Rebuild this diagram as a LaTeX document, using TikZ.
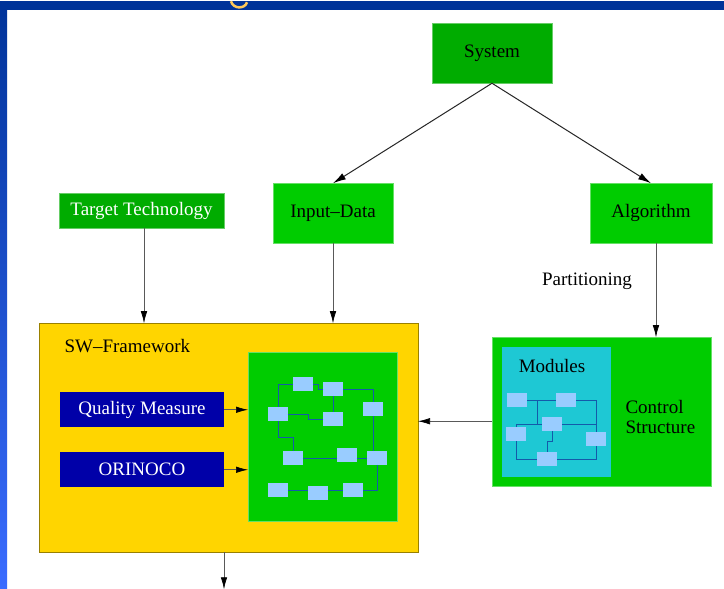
\documentclass[tikz,border=0pt]{standalone}
\usepackage{fontspec}
\setmainfont{Liberation Serif}
\usetikzlibrary{arrows.meta}
\pgfdeclarelayer{bg}
\pgfdeclarelayer{back}
\pgfdeclarelayer{mid}
\pgfsetlayers{bg,back,mid,main}
\definecolor{dkgreen}{RGB}{0,172,0}
\definecolor{brgreen}{RGB}{0,204,0}
\definecolor{gold}{RGB}{255,213,0}
\definecolor{navy}{RGB}{0,0,168}
\definecolor{cyanbox}{RGB}{30,200,212}
\definecolor{minib}{RGB}{153,204,255}
\definecolor{wirec}{RGB}{20,90,170}
\definecolor{bandblue}{RGB}{0,51,153}
\definecolor{lowblue}{RGB}{58,108,255}
\definecolor{titley}{RGB}{255,200,90}
\begin{document}
\begin{tikzpicture}[x=1pt,y=-1pt,font=\rmfamily\fontsize{19}{20}\selectfont,
  gbox/.style={fill=brgreen,draw=brgreen!60!white,line width=0.8pt,inner sep=0pt,outer sep=0pt},
  dgbox/.style={fill=dkgreen,draw=dkgreen!60!white,line width=0.8pt,inner sep=0pt,outer sep=0pt},
  nbox/.style={fill=navy,text=white,inner sep=0pt,outer sep=0pt,minimum width=164pt,minimum height=35pt},
  mini/.style={fill=minib,minimum width=20pt,minimum height=14pt,inner sep=0pt,outer sep=0pt},
  wire/.style={draw=wirec,line width=1pt},
  arr/.style={draw=black!65,line width=0.7pt,-{Latex[length=12pt,width=6.5pt,color=black]}},
  sysarr/.style={draw=black!85,line width=1pt,-{Latex[length=13pt,width=7pt,color=black]}}]
% background
\begin{pgfonlayer}{bg}
\fill[white] (0,0) rectangle (724,587);
\shade[top color=bandblue,bottom color=lowblue] (0,0) rectangle (7,587);
\fill[bandblue] (0,0) rectangle (724,9);
\draw[titley,line width=2.5pt] (231,0) .. controls (233,8) and (245,8) .. (247,1);
\end{pgfonlayer}
\useasboundingbox (0,0) rectangle (724,587);

% top nodes
\node[dgbox,minimum width=120pt,minimum height=60pt] (sys) at (492,52) {System};
\node[dgbox,text=white,minimum width=165pt,minimum height=35pt] (tt) at (141.5,209.5) {Target Technology};
\node[gbox,minimum width=120pt,minimum height=60pt] (inp) at (333,212) {Input--Data};
\node[gbox,minimum width=122pt,minimum height=60pt] (alg) at (651,212) {Algorithm};
\node (part) at (587,280) {Partitioning};

% big containers
\begin{pgfonlayer}{back}
\node[fill=gold,draw=black!40!gold,line width=0.8pt,inner sep=0pt,outer sep=0pt,minimum width=379pt,minimum height=229pt] (sw) at (228.5,436.5) {};
\node[gbox,minimum width=149pt,minimum height=169pt] (ig) at (322.5,435.5) {};
\node[gbox,minimum width=219pt,minimum height=149pt] (cs) at (601.5,410.5) {};
\node[fill=cyanbox,inner sep=0pt,outer sep=0pt,minimum width=109pt,minimum height=130pt] (cy) at (556.5,411) {};
\end{pgfonlayer}

\node[anchor=west] (swt) at (61,345) {SW--Framework};
\node (modt) at (552,365) {Modules};
\node[anchor=west,align=left] (cst) at (622,416) {Control\\Structure};
\node[nbox] (qm) at (142,408.5) {Quality Measure};
\node[nbox] (ori) at (142,468.5) {ORINOCO};

% mini modules in SW framework
\node[mini] (m1) at (303,383) {};
\node[mini] (m2) at (333,388) {};
\node[mini] (m3) at (278,413) {};
\node[mini] (m4) at (333,418) {};
\node[mini] (m5) at (373,408) {};
\node[mini] (m6) at (293,457) {};
\node[mini] (m7) at (347,454) {};
\node[mini] (m8) at (377,457) {};
\node[mini] (m9) at (278,489) {};
\node[mini] (m10) at (318,492) {};
\node[mini] (m11) at (353,489) {};

% mini modules in control structure
\node[mini] (cA) at (517,399) {};
\node[mini] (cB) at (566,399) {};
\node[mini] (cC) at (552,423) {};
\node[mini] (cD) at (516,433) {};
\node[mini] (cE) at (596,438) {};
\node[mini] (cF) at (547,458) {};

\begin{pgfonlayer}{mid}
\draw[wire] (m3.north) |- (m1.west);
\draw[wire] (m1.east) -- ++(5,0) |- (m2.west);
\draw[wire] (m2.east) -| (m5.north);
\draw[wire] (m2.south) -- (m4.north);
\draw[wire] (m3.east) -- ++(20,0) |- (m4.west);
\draw[wire] (m3.south) -- ++(0,16) -| (m6.north);
\draw[wire] (m6.east) -- (m6.east -| m8.west);
\draw[wire] (m5.south) -- (m5.south |- m8.north);
\draw[wire] (m8.south) |- (m9.east);
\draw[wire] (cA.east) -- (cB.west);
\draw[wire] (cB.east) -| (cE.north);
\draw[wire] (cA.east) -- ++(10,0) |- (cC.west);
\draw[wire] (cD.north) |- (cC.west);
\draw[wire] (cC.east) -| (cE.north);
\draw[wire] (cD.south) |- (cF.west);
\draw[wire] (cF.east) -| (cE.south);
\draw[wire] (cC.south) -- ++(0,10) -| (cF.north);
\end{pgfonlayer}

% connectors
\draw[sysarr] (sys.south) -- (inp.north);
\draw[sysarr] (sys.south) -- (alg.north);
\draw[arr] ([xshift=2.5pt]tt.south) -- ([xshift=2.5pt]tt.south |- sw.north);
\draw[arr] (inp.south) -- (inp.south |- sw.north);
\draw[arr] ([xshift=5pt]alg.south) -- ([xshift=5pt]alg.south |- cs.north);
\coordinate (lvl) at (0,420);
\draw[arr] (cs.west |- lvl) -- (sw.east |- lvl);
\draw[arr] (qm.east) -- (qm.east -| ig.west);
\draw[arr] (ori.east) -- (ori.east -| ig.west);
\coordinate (outp) at (224,588);
\draw[arr] (sw.south -| outp) -- (outp);
\end{tikzpicture}
\end{document}
